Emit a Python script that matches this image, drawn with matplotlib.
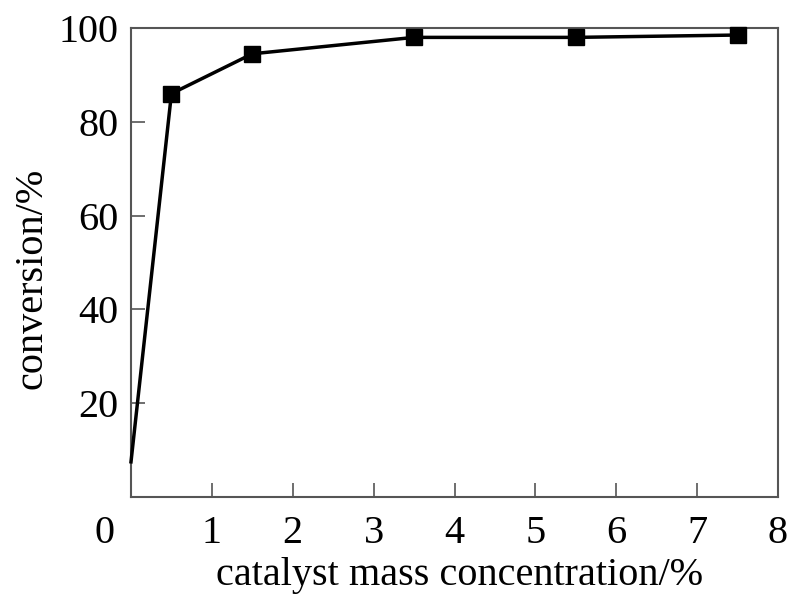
import matplotlib
matplotlib.use("Agg")
import matplotlib.pyplot as plt
import matplotlib.transforms as mtransforms

x_vals = [0.0, 0.5, 1.5, 3.5, 5.5, 7.5]
conversion = [7.5, 86.0, 94.5, 98.0, 98.0, 98.5]
x_ticks = [0, 1, 2, 3, 4, 5, 6, 7, 8]
y_ticks = [20, 40, 60, 80, 100]

plt.rcParams['font.family'] = ['Liberation Serif', 'DejaVu Serif']

W, H = 787, 594
fig = plt.figure(figsize=(W / 100, H / 100), dpi=100)
ax = fig.add_axes([131 / W, 1 - 497 / H, (778 - 131) / W, (497 - 28) / H])

ax.plot(x_vals, conversion, color='black', lw=2.5, marker='s', ms=11.5,
        markevery=list(range(1, len(x_vals))), clip_on=False, zorder=3)

ax.set_xlim(0, 8)
ax.set_ylim(0, 100)
ax.set_xticks(x_ticks)
ax.set_yticks(y_ticks)
ax.tick_params(direction='in', length=10, width=1.2, color='#555555',
               labelsize=29)
ax.tick_params(axis='x', pad=13)
ax.tick_params(axis='y', pad=9)
for s in ax.spines.values():
    s.set_color('#555555')
    s.set_linewidth(1.5)

# shift the x "0" label left, as in the reference
lbl0 = ax.get_xticklabels()[0]
lbl0.set_transform(lbl0.get_transform() + mtransforms.ScaledTranslation(-26 / 100, 0, fig.dpi_scale_trans))

fig.text(460 / W, 1 - 585 / H, 'catalyst mass concentration/%', fontsize=29,
         ha='center', va='baseline')
fig.text(32.5 / W, 1 - 278 / H, 'conversion/%', fontsize=29, rotation=90,
         ha='center', va='center')

fig.savefig('out.png', dpi=100)
